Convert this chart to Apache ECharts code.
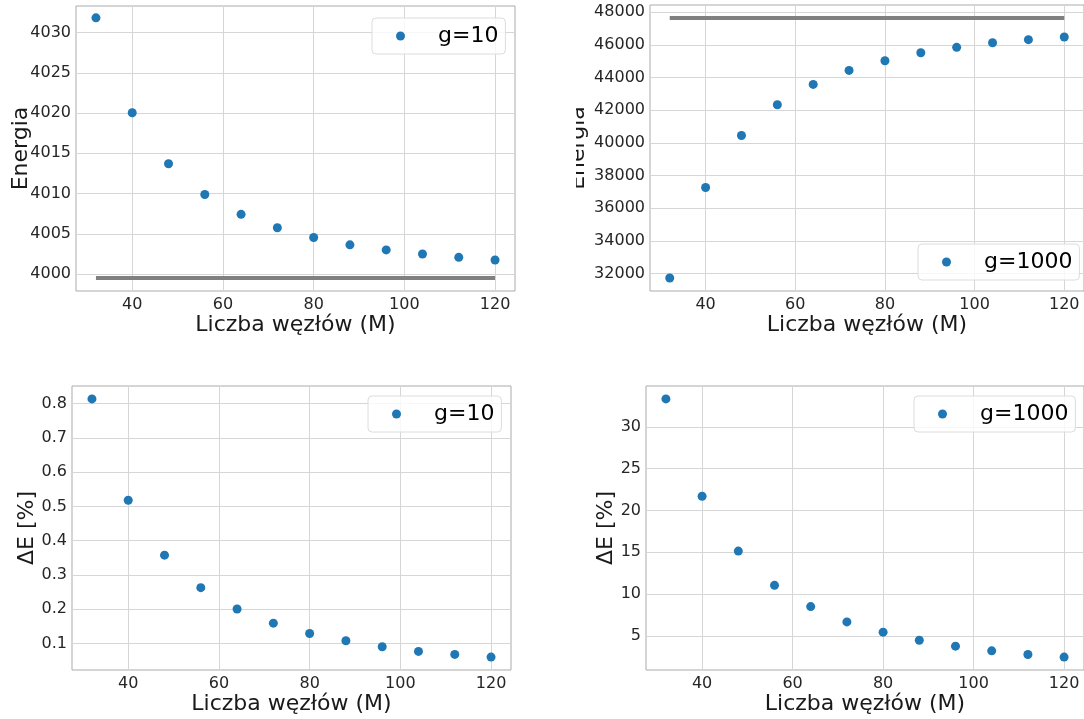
<!DOCTYPE html>
<html>
<head>
<meta charset="utf-8">
<title>Energia vs liczba węzłów</title>
<script src="https://cdn.jsdelivr.net/npm/echarts@6/dist/echarts.min.js"></script>
<style>
  html, body { margin: 0; padding: 0; background: #fff; }
  #chart { width: 1084px; height: 719px; }
</style>
</head>
<body>
<div id="chart"></div>
<script>
// dane
var nodes = [32, 40, 48, 56, 64, 72, 80, 88, 96, 104, 112, 120];

var energyG10 = [4031.83, 4020.04, 4013.71, 4009.88, 4007.42, 4005.75, 4004.54, 4003.63, 4003.0, 4002.5, 4002.08, 4001.75];
var energyG1000 = [31734, 37273, 40460, 42340, 43587, 44445, 45038, 45528, 45855, 46141, 46325, 46488];
var exactG10 = 3999.5;
var exactG1000 = 47653;

var errG10 = [0.8136, 0.5178, 0.3577, 0.2627, 0.2006, 0.1592, 0.1291, 0.1078, 0.0903, 0.0767, 0.068, 0.0602];
var errG1000 = [33.34, 21.69, 15.14, 11.04, 8.50, 6.67, 5.44, 4.48, 3.77, 3.21, 2.77, 2.46];

var xTicks = [40, 60, 80, 100, 120];
var yTicksEnergyG10 = [4000, 4005, 4010, 4015, 4020, 4025, 4030];
var yTicksEnergyG1000 = [32000, 34000, 36000, 38000, 40000, 42000, 44000, 46000, 48000];
var yTicksErrG10 = [0.1, 0.2, 0.3, 0.4, 0.5, 0.6, 0.7, 0.8];
var yTicksErrG1000 = [5, 10, 15, 20, 25, 30];

var xLabel = "Liczba węzłów (M)";
var font = "DejaVu Sans";
var blue = "#1f77b4";

function pairs(ys) {
	return nodes.map(function (x, i) { return [x, ys[i]]; });
}

// oś X wspólna dla wszystkich paneli
function xAxisFor(gridIndex) {
	return {
		type: "value",
		gridIndex: gridIndex,
		min: 27.6,
		max: 124.4,
		name: xLabel,
		nameLocation: "middle",
		nameGap: 22,
		nameTextStyle: { fontFamily: font, fontSize: 22, color: "#1a1a1a" },
		axisLine: { show: false },
		axisTick: { show: false, customValues: xTicks },
		axisLabel: { customValues: xTicks, fontFamily: font, fontSize: 16, color: "#262626", margin: 6 },
		splitLine: { show: true, lineStyle: { color: "#d6d6d6", width: 1 } },
	};
}

function yAxisFor(gridIndex, name, min, max, ticks, gap, digits) {
	return {
		type: "value",
		gridIndex: gridIndex,
		min: min,
		max: max,
		name: name,
		nameLocation: "middle",
		nameGap: gap,
		nameMoveOverlap: false,
		nameTextStyle: { fontFamily: font, fontSize: 22, color: "#1a1a1a" },
		axisLine: { show: false },
		axisTick: { show: false, customValues: ticks },
		axisLabel: {
			customValues: ticks,
			fontFamily: font,
			fontSize: 16,
			color: "#262626",
			margin: 5,
			formatter: function (v) { return digits ? v.toFixed(digits) : String(Math.round(v)); },
		},
		splitLine: { show: true, lineStyle: { color: "#d6d6d6", width: 1 } },
	};
}

function gridAt(left, top, width, height) {
	return {
		left: left,
		top: top,
		width: width,
		height: height,
		show: true,
		borderColor: "#ababab",
		borderWidth: 1,
		backgroundColor: "transparent",
	};
}

function legendAt(name, left, top) {
	return {
		data: [name],
		left: left,
		top: top,
		orient: "vertical",
		icon: "circle",
		itemWidth: 9,
		itemHeight: 9,
		padding: [7, 7, 7, 24],
		backgroundColor: "rgba(255,255,255,0.8)",
		borderColor: "#dcdcdc",
		borderWidth: 1,
		borderRadius: 4,
		selectedMode: false,
		textStyle: { fontFamily: font, fontSize: 22, color: "#000", padding: [0, 0, 0, 28], lineHeight: 22 },
	};
}

function scatter(name, idx, ys) {
	return {
		name: name,
		type: "scatter",
		xAxisIndex: idx,
		yAxisIndex: idx,
		symbol: "circle",
		symbolSize: 9,
		itemStyle: { color: blue, opacity: 1 },
		data: pairs(ys),
		z: 3,
	};
}

function exactLine(idx, value) {
	return {
		name: "exact",
		type: "line",
		xAxisIndex: idx,
		yAxisIndex: idx,
		symbol: "none",
		lineStyle: { color: "#808080", width: 4 },
		data: [[nodes[0], value], [nodes[nodes.length - 1], value]],
		z: 2,
	};
}

var chart = echarts.init(document.getElementById("chart"), null, { renderer: "canvas" });

var option = {
	backgroundColor: "#fff",
	animation: false,
	grid: [
		gridAt(76, 6, 439, 285),
		gridAt(650, 5, 438, 286),
		gridAt(72, 386, 439, 284),
		gridAt(646, 386, 439, 284),
	],
	xAxis: [xAxisFor(0), xAxisFor(1), xAxisFor(2), xAxisFor(3)],
	yAxis: [
		yAxisFor(0, "Energia", 3997.9, 4033.3, yTicksEnergyG10, 44, 0),
		yAxisFor(1, "Energia", 30938, 48449, yTicksEnergyG1000, 61, 0),
		yAxisFor(2, "ΔE [%]", 0.0225, 0.8513, yTicksErrG10, 34, 1),
		yAxisFor(3, "ΔE [%]", 0.916, 34.88, yTicksErrG1000, 29, 0),
	],
	legend: [
		legendAt("g=10", 372, 18),
		legendAt("g=1000", 918, 244),
		legendAt("g=10", 368, 396),
		legendAt("g=1000", 914, 396),
	],
	series: [
		exactLine(0, exactG10),
		scatter("g=10", 0, energyG10),
		exactLine(1, exactG1000),
		scatter("g=1000", 1, energyG1000),
		scatter("g=10", 2, errG10),
		scatter("g=1000", 3, errG1000),
	],
	// w oryginale etykieta osi prawego górnego panelu jest ucięta
	graphic: [
		{ type: "rect", left: 556, top: 90, shape: { width: 20, height: 130 }, style: { fill: "#fff" }, z: 100 },
	],
};

chart.setOption(option);
</script>
</body>
</html>
